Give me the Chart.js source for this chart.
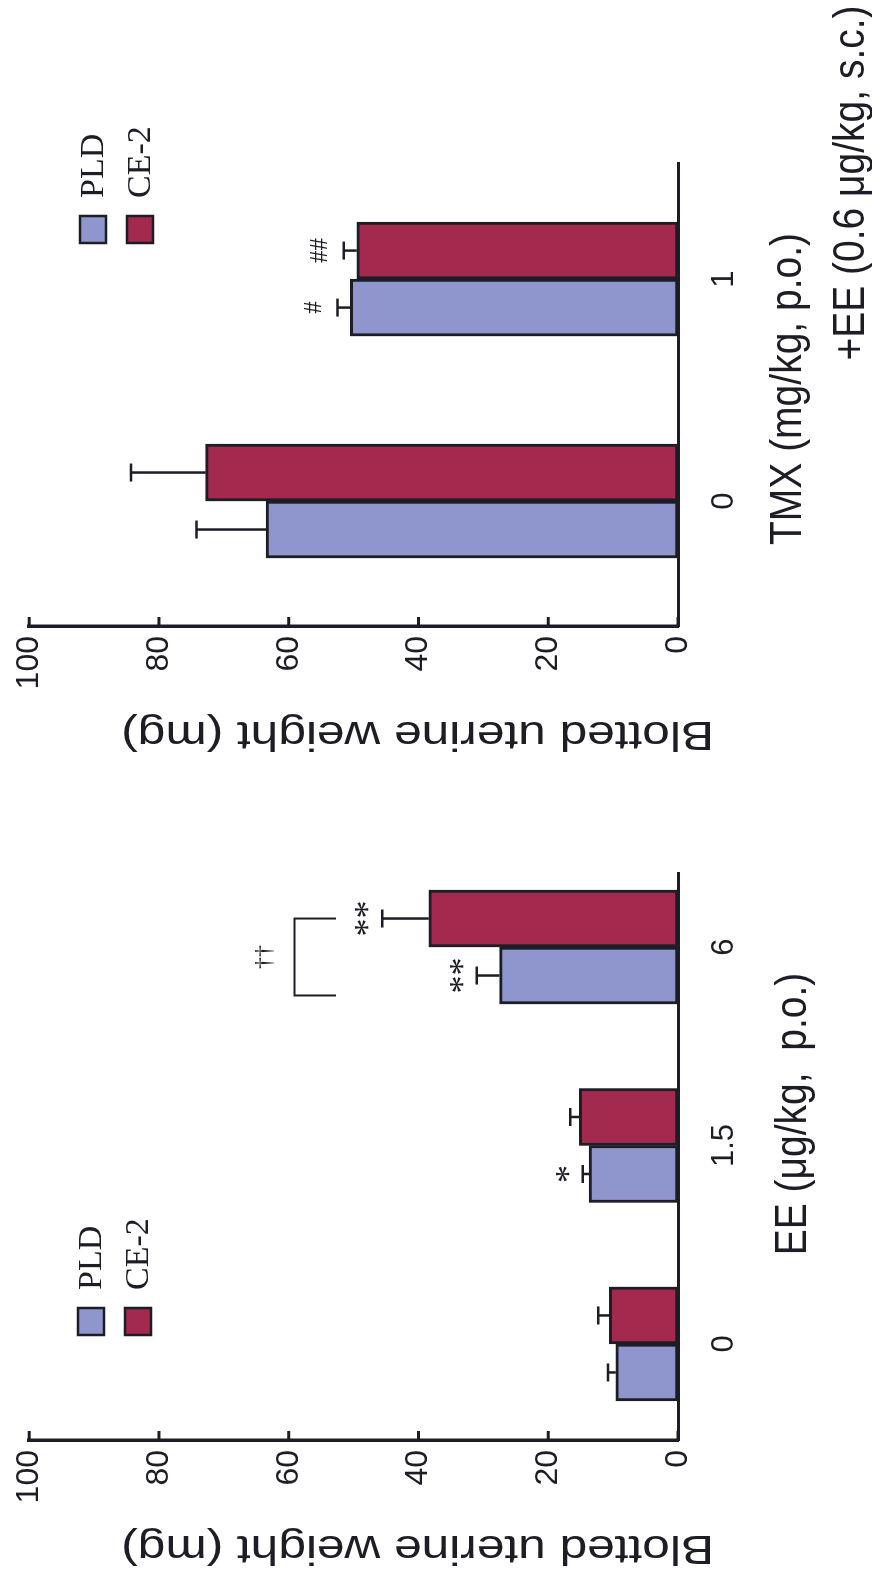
<!DOCTYPE html>
<html>
<head>
<meta charset="utf-8">
<script src="https://cdn.jsdelivr.net/npm/chart.js@4/dist/chart.umd.min.js"></script>
<style>
    html, body { margin:0; padding:0; background:#ffffff; overflow:hidden; }
    body { width:872px; height:1573px; position:relative; }
    /* la figura original es apaisada y está girada 90° a la izquierda */
    #hoja { position:absolute; left:0; top:0; width:1573px; height:872px;
            transform-origin:0 0; transform:translateY(1573px) rotate(-90deg); }
    #hoja canvas { position:absolute; left:0; top:0; }
</style>
</head>
<body>
<div id="hoja">
    <canvas id="graficoEE" width="1573" height="872"></canvas>
    <canvas id="graficoTMX" width="1573" height="872"></canvas>
</div>
<script>

// Datos

const series = ["PLD", "CE-2"];

const dosisEE = ["0", "1.5", "6"];
const eePLD = [9.6, 13.7, 27.5];
const eePLDerr = [1.2, 1.0, 3.5];
const eeCE2 = [10.6, 15.2, 38.4];
const eeCE2err = [1.7, 1.4, 7.2];
const eeMarcasPLD = ["", "*", "**"];
const eeMarcasCE2 = ["", "", "**"];

const dosisTMX = ["0", "1"];
const tmxPLD = [63.5, 50.5];
const tmxPLDerr = [10.7, 2.0];
const tmxCE2 = [72.8, 49.5];
const tmxCE2err = [11.5, 2.0];
const tmxMarcasPLD = ["", "#"];
const tmxMarcasCE2 = ["", "##"];

const ticksValor = [0, 20, 40, 60, 80, 100];

// Estilo

const colores = {
    PLD: "#8e96cd",
    CE2: "#a3294f",
    linea: "#1d1d26"
};

const SANS = "'Liberation Sans', Arial, sans-serif";
const SERIF = "'Liberation Serif', 'Times New Roman', serif";
const ANCHO_Y = 62;
const ALTO_X = 100;

Chart.defaults.font.family = SANS;
Chart.defaults.color = colores.linea;

function textoCentrado(ctx, texto, x, cy, fuente){
    ctx.font = fuente;
    const m = ctx.measureText(texto);
    ctx.textAlign = "center";
    ctx.textBaseline = "alphabetic";
    ctx.fillText(texto, x, cy + (m.actualBoundingBoxAscent - m.actualBoundingBoxDescent) / 2);
}

// los títulos del original salen algo estirados en un sentido
function textoGirado(ctx, texto, x, y, fuente, giro, sx, sy){
    ctx.save();
    ctx.translate(x, y);
    ctx.rotate(giro);
    ctx.scale(sx, sy);
    ctx.font = fuente;
    ctx.textAlign = "center";
    ctx.textBaseline = "middle";
    ctx.fillText(texto, 0, 0);
    ctx.restore();
}

// Barras de error, marcas, corchete, leyenda y títulos

const figura = {

    id: "figura",

    afterDatasetsDraw(chart, args, op){

        const ctx = chart.ctx;
        const ejeY = chart.scales.y;
        const area = chart.chartArea;

        ctx.save();
        ctx.strokeStyle = colores.linea;
        ctx.fillStyle = colores.linea;

        // error (solo hacia arriba) y marcas de significación
        chart.data.datasets.forEach((ds, d) => {
            const meta = chart.getDatasetMeta(d);
            meta.data.forEach((barra, i) => {
                const tope = ejeY.getPixelForValue(ds.data[i].y + ds.err[i]);
                ctx.lineWidth = 2.5;
                ctx.beginPath();
                ctx.moveTo(barra.x, barra.y);
                ctx.lineTo(barra.x, tope);
                ctx.moveTo(barra.x - 9, tope);
                ctx.lineTo(barra.x + 9, tope);
                ctx.stroke();
                if (ds.marcas[i]) {
                    textoCentrado(ctx, ds.marcas[i], barra.x, tope - op.separacion, op.fuenteMarca);
                }
            });
        });

        // corchete entre PLD y CE-2
        if (op.corchete) {
            const c = op.corchete;
            const bA = chart.getDatasetMeta(0).data[c.categoria];
            const bB = chart.getDatasetMeta(1).data[c.categoria];
            const xa = bA.x - bA.width * 0.35;
            const xb = bB.x;
            const yn = ejeY.getPixelForValue(c.nivel);
            const yb = ejeY.getPixelForValue(c.brazo);
            ctx.lineWidth = 2;
            ctx.beginPath();
            ctx.moveTo(xa, yb);
            ctx.lineTo(xa, yn);
            ctx.lineTo(xb, yn);
            ctx.lineTo(xb, yb);
            ctx.stroke();
            textoCentrado(ctx, c.texto, (xa + xb) / 2, ejeY.getPixelForValue(c.textoNivel), "24px " + SERIF);
        }

        // leyenda dentro del gráfico
        const ley = op.leyenda;
        chart.data.datasets.forEach((ds, d) => {
            const y0 = ley.y + d * 47;
            ctx.fillStyle = ds.backgroundColor;
            ctx.fillRect(ley.x, y0, 27, 26);
            ctx.lineWidth = 2.5;
            ctx.strokeStyle = colores.linea;
            ctx.strokeRect(ley.x, y0, 27, 26);
            ctx.fillStyle = colores.linea;
            ctx.font = "34px " + SERIF;
            ctx.textAlign = "left";
            ctx.textBaseline = "middle";
            ctx.fillText(ds.label, ley.x + 45, y0 + 14);
        });

        // marcas de escala hacia dentro
        ctx.lineWidth = 3;
        ticksValor.forEach(v => {
            const py = ejeY.getPixelForValue(v);
            ctx.beginPath();
            ctx.moveTo(area.left, py);
            ctx.lineTo(area.left + 9, py);
            ctx.stroke();
        });

        // títulos de ejes
        const ty = op.tituloY;
        textoGirado(ctx, ty.texto, area.left - 107, (area.top + area.bottom) / 2 + ty.dy,
            "40px " + SANS, -Math.PI / 2, 1.24, 1);
        op.titulosX.forEach(t => {
            textoGirado(ctx, t.texto, area.left + t.dx, area.bottom + t.dy,
                "39px " + SANS, 0, 1, 1.12);
        });

        ctx.restore();
    }

};

// Crear gráfico

function crearGrafico(id, dosis, pld, pldErr, ce2, ce2Err, marcasPLD, marcasCE2, marco, extra){

    return new Chart(document.getElementById(id), {

        type: "bar",

        data: {
            datasets: [
                {
                    label: series[0],
                    data: pld.map((v, i) => ({ x: i, y: v })),
                    err: pldErr,
                    marcas: marcasPLD,
                    backgroundColor: colores.PLD,
                    borderColor: colores.linea,
                    borderWidth: 3,
                    borderSkipped: false,
                    barThickness: 57
                },
                {
                    label: series[1],
                    data: ce2.map((v, i) => ({ x: i, y: v })),
                    err: ce2Err,
                    marcas: marcasCE2,
                    backgroundColor: colores.CE2,
                    borderColor: colores.linea,
                    borderWidth: 3,
                    borderSkipped: false,
                    barThickness: 57
                }
            ]
        },

        options: {
            responsive: false,
            animation: false,
            devicePixelRatio: 1,
            layout: {
                padding: {
                    left: marco.izq - ANCHO_Y,
                    right: 1573 - marco.der,
                    top: 20,
                    bottom: 872 - 678 - ALTO_X
                }
            },
            plugins: {
                legend: { display: false },
                tooltip: { enabled: false },
                figura: extra
            },
            scales: {
                x: {
                    type: "linear",
                    offset: false,
                    min: marco.xmin,
                    max: marco.xmax,
                    afterBuildTicks: sc => { sc.ticks = dosis.map((d, i) => ({ value: i })); },
                    afterFit: sc => { sc.height = ALTO_X; },
                    ticks: {
                        callback: v => dosis[v],
                        autoSkip: false,
                        maxRotation: 0,
                        padding: 28,
                        font: { size: 31 }
                    },
                    grid: { display: false, drawTicks: false, offset: false },
                    border: { display: true, color: colores.linea, width: 3 }
                },
                y: {
                    min: 0,
                    max: 100,
                    afterBuildTicks: sc => { sc.ticks = ticksValor.map(v => ({ value: v })); },
                    afterFit: sc => { sc.width = ANCHO_Y; },
                    ticks: {
                        padding: 10,
                        font: { size: 32 }
                    },
                    grid: { display: false, drawTicks: false },
                    border: { display: true, color: colores.linea, width: 3.5 }
                }
            }
        },

        plugins: [figura]

    });

}

crearGrafico("graficoEE", dosisEE, eePLD, eePLDerr, eeCE2, eeCE2err, eeMarcasPLD, eeMarcasCE2,
    { izq: 133, der: 700, xmin: -0.484, xmax: 2.373 },
    {
        separacion: 20,
        fuenteMarca: "36px " + SERIF,
        corchete: { categoria: 2, nivel: 59.1, brazo: 52.7, texto: "††", textoNivel: 63.7 },
        leyenda: { x: 238, y: 78 },
        tituloY: { texto: "Blotted uterine weight (mg)", dy: 64 },
        titulosX: [ { texto: "EE (μg/kg,  p.o.)", dx: 326, dy: 116 } ]
    }
);

crearGrafico("graficoTMX", dosisTMX, tmxPLD, tmxPLDerr, tmxCE2, tmxCE2err, tmxMarcasPLD, tmxMarcasCE2,
    { izq: 947, der: 1410, xmin: -0.563, xmax: 1.523 },
    {
        separacion: 25,
        fuenteMarca: "25px " + SERIF,
        corchete: null,
        leyenda: { x: 1330, y: 80 },
        tituloY: { texto: "Blotted uterine weight (mg)", dy: 64 },
        titulosX: [
            { texto: "TMX (mg/kg, p.o.)", dx: 237, dy: 111 },
            { texto: "+EE (0.6 μg/kg, s.c.)", dx: 443, dy: 174 }
        ]
    }
);

</script>
</body>
</html>
